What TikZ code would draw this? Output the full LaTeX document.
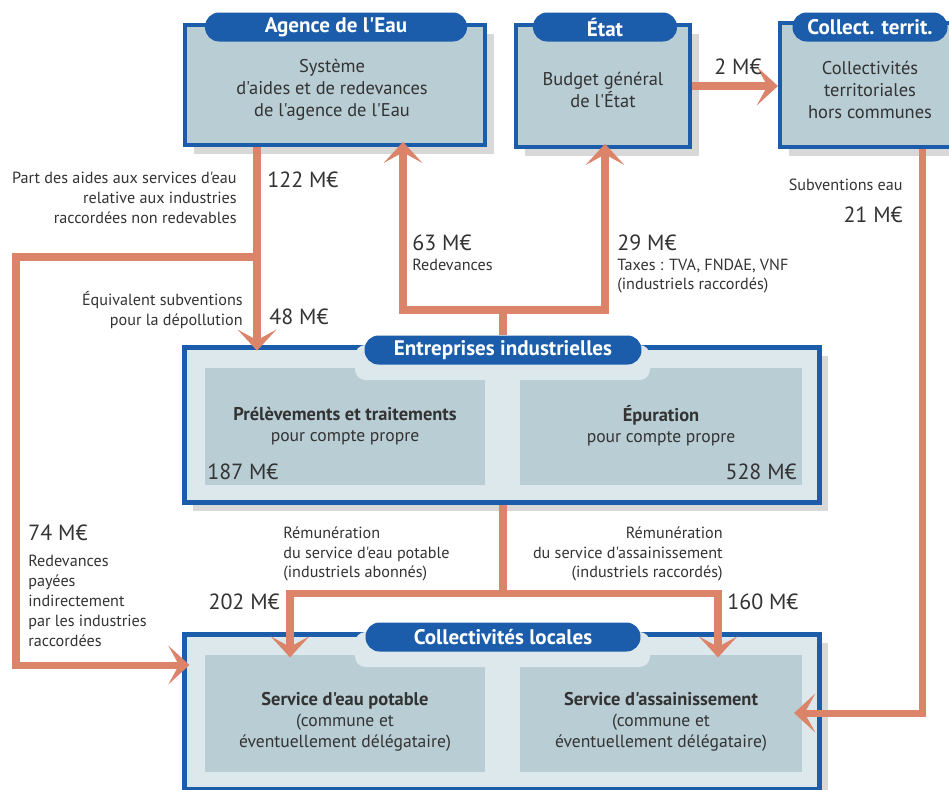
\documentclass[tikz,border=0pt]{standalone}
\usepackage{fontspec}
\setmainfont{PT Sans}[Ligatures=TeXOff]
\usetikzlibrary{arrows.meta,positioning,shadows}
\definecolor{eau}{HTML}{1B5DAA}
\definecolor{boxfill}{HTML}{B9CDD4}
\definecolor{innerfill}{HTML}{DDE8EC}
\definecolor{flux}{HTML}{DC8469}
\definecolor{ink}{HTML}{333333}
\tikzset{
  box/.style={draw=eau, line width=2.4pt, fill=boxfill,
    drop shadow={shadow xshift=5pt, shadow yshift=-5pt, opacity=0.3}},
  boxtext/.style={align=center, text=ink, inner sep=0pt, font=\fontsize{10.5}{12.6}\selectfont},
  frame/.style={draw=eau, line width=2.4pt, fill=innerfill,
    drop shadow={shadow xshift=5pt, shadow yshift=-5pt, opacity=0.3}},
  tab/.style={fill=eau, rounded corners=8pt, text=white, inner sep=2pt,
    minimum height=5.8mm, font=\bfseries\fontsize{12}{14}\selectfont},
  panel/.style={fill=boxfill, minimum width=5.6cm, minimum height=2.34cm},
  paneltext/.style={align=center, text=ink, inner sep=0pt, font=\fontsize{10}{12}\selectfont},
  amount/.style={font=\fontsize{12.5}{14}\selectfont, text=ink, inner sep=0pt},
  note/.style={font=\fontsize{9.2}{11.3}\selectfont, text=ink, inner sep=0pt},
  flow/.style={draw=flux, line width=4pt, -{Stealth[length=12pt, width=22pt, inset=6pt]}},
}
\newcommand{\titre}[1]{{\bfseries\fontsize{10.5}{12}\selectfont #1}}

\begin{document}
\begin{tikzpicture}[x=0.02cm, y=-0.02cm]
  \clip (0,0) rectangle (949,789);
  \fill[white] (0,0) rectangle (949,789);

  % top row
  \node[box, minimum width=6cm, minimum height=2.4cm] (agence) at (335,85) {};
  \node[boxtext] (agencet) at (332,90) {Système\\d'aides et de redevances\\de l'agence de l'Eau};
  \node[tab, minimum width=5.24cm] (agtab) at (336,27) {Agence de l'Eau};
  \node[box, minimum width=3.48cm, minimum height=2.44cm] (etat) at (603,86) {};
  \node[boxtext] (etatt) at (603,90) {Budget général\\de l'État};
  \node[tab, minimum width=2.88cm] (etattab) at (605,27) {État};
  \node[box, minimum width=3.6cm, minimum height=2.48cm] (collter) at (870,85) {};
  \node[boxtext] (colltert) at (870,90) {Collectivités\\territoriales\\hors communes};
  \node[tab, minimum width=3.1cm] (cttab) at (870,27) {Collect. territ.};

  % entreprises
  \node[frame, minimum width=12.7cm, minimum height=3.1cm] (entr) at (502,425) {};
  \node[panel] (prel) at (345,426) {};
  \node[panel, minimum width=5.64cm] (epur) at (661,426) {};
  \fill[innerfill, rounded corners=6pt] (355,345) rectangle (650,380);
  \node[paneltext] (prelt) at (345,426) {\titre{Prélèvements et traitements}\\pour compte propre};
  \node[paneltext] (epurt) at (661,426) {\titre{Épuration}\\pour compte propre};
  \node[tab, minimum width=5.54cm] (entrtab) at (503,350) {Entreprises industrielles};
  \node[amount, anchor=west] (v187) at (207,472) {187 M€};
  \node[amount, anchor=east] (v528) at (797,472) {528 M€};

  % collectivites locales
  \node[frame, minimum width=12.7cm, minimum height=3.1cm] (colloc) at (502,712) {};
  \node[panel] (potable) at (345,713) {};
  \node[panel, minimum width=5.64cm] (assain) at (661,713) {};
  \fill[innerfill, rounded corners=6pt] (355,632) rectangle (650,667);
  \node[paneltext] (potablet) at (345,722) {\titre{Service d'eau potable}\\(commune et\\éventuellement délégataire)};
  \node[paneltext] (assaint) at (661,722) {\titre{Service d'assainissement}\\(commune et\\éventuellement délégataire)};
  \node[tab, minimum width=5.5cm] (colltab) at (503,637) {Collectivités locales};

  % flows
  \coordinate (b122) at (257,257);
  \coordinate (c74) at (16,665);
  \coordinate (bred) at (503,310);
  \coordinate (b63) at (403,310);
  \coordinate (b29) at (605,310);
  \coordinate (b21) at (922,713);
  \coordinate (brem) at (503,593);
  \coordinate (b202) at (290,593);
  \coordinate (b160) at (718,593);

  \draw[flow, shorten >=-3pt] (agence.south -| b122) -- (entr.north -| b122);
  \draw[flow, shorten >=-4pt] (b122) -| (c74) -- (colloc.west |- c74);
  \draw[flow, shorten >=-3pt] (entrtab.north) -- (bred) -- (b63) -- (agence.south -| b63);
  \draw[flow, shorten >=-3pt] (bred) -- (b29) -- (etat.south -| b29);
  \draw[flow] (etat.east) -- (etat.east -| collter.west);
  \draw[flow, shorten >=-0.55cm] (collter.south -| b21) -- (b21) -- (colloc.east |- b21);
  \draw[flow, shorten >=-0.5cm] (entr.south -| brem) -- (brem) -- (b202) -- (colloc.north -| b202);
  \draw[flow, shorten >=-0.5cm] (brem) -- (b160) -- (colloc.north -| b160);

  % labels
  \node[amount] (l2) at (738,67) {2 M€};
  \node[amount, anchor=west] (l122) at (267,180) {122 M€};
  \node[note, align=right, anchor=east] (laides) at (237,198) {Part des aides aux services d'eau\\relative aux industries\\raccordées non redevables};
  \node[note, align=right, anchor=east] (ldepol) at (243,310) {Équivalent subventions\\pour la dépollution};
  \node[amount, anchor=west] (l48) at (269,317) {48 M€};
  \node[amount, anchor=west] (l63) at (412,243) {63 M€};
  \node[note, anchor=west] (lred) at (412,265) {Redevances};
  \node[amount, anchor=west] (l29) at (617,243) {29 M€};
  \node[note, align=left, anchor=west] (ltaxes) at (617,276) {Taxes : TVA, FNDAE, VNF\\(industriels raccordés)};
  \node[note, anchor=east] (lsub) at (903,185) {Subventions eau};
  \node[amount, anchor=east] (l21) at (903,215) {21 M€};
  \node[amount, anchor=west] (l74) at (28,533) {74 M€};
  \node[note, align=left, anchor=west] (lindir) at (28,601) {Redevances\\payées\\indirectement\\par les industries\\raccordées};
  \node[note, align=left, anchor=west] (lpot) at (283,554) {Rémunération\\du service d'eau potable\\(industriels abonnés)};
  \node[amount, anchor=east] (l202) at (280,602) {202 M€};
  \node[note, align=right, anchor=east] (lass) at (723,554) {Rémunération\\du service d'assainissement\\(industriels raccordés)};
  \node[amount, anchor=west] (l160) at (727,602) {160 M€};
\end{tikzpicture}
\end{document}
